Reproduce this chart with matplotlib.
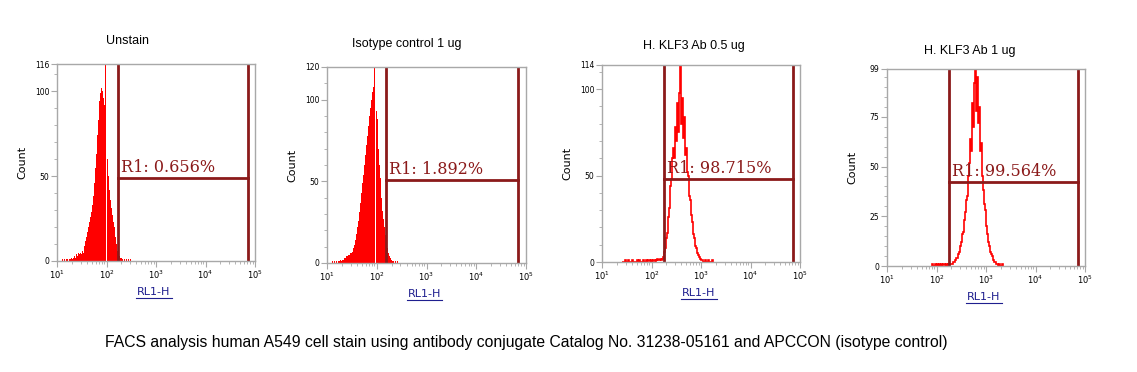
import numpy as np
import matplotlib
matplotlib.use("Agg")
import matplotlib.pyplot as plt
from matplotlib.lines import Line2D
from matplotlib.ticker import FixedLocator, LogLocator

# ------------------ DATA ------------------
titles = ["Unstain", "Isotype control 1 ug", "H. KLF3 Ab 0.5 ug", "H. KLF3 Ab 1 ug"]
gate_labels = ["R1: 0.656%", "R1: 1.892%", "R1: 98.715%", "R1: 99.564%"]
y_max = [116, 120, 114, 99]
y_major = [[0, 50, 100, 116], [0, 50, 100, 120], [0, 50, 100, 114], [0, 25, 50, 75, 99]]
y_minor_step = [10, 10, 10, 5]

# gate: left / right edge (log10 RL1-H) and marker level (count)
gate_left = [2.23, 2.19, 2.25, 2.25]
gate_right = [4.86, 4.84, 4.86, 4.86]
gate_level = [49, 51, 48, 42]

# histograms: counts per 0.02-decade channel, first channel at hist_start (log10)
bin_width = 0.02
hist_start = [1.10, 1.10, 1.40, 1.90]

counts_unstain = [
    1, 0, 1, 0, 1, 1, 0, 1, 1, 2, 1, 2, 3, 2, 4, 3, 5, 4, 5, 4,
    6, 5, 9, 12, 14, 17, 20, 23, 26, 29, 33, 38, 46, 55, 63, 74, 83, 94, 99, 102,
    100, 96, 92, 116, 0, 88, 60, 50, 42, 36, 31, 27, 23, 20, 14, 10, 6, 4, 3, 2,
    2, 1, 0, 1, 0, 1, 0, 1, 0, 1,
]
counts_isotype = [
    1, 0, 1, 0, 1, 0, 1, 1, 2, 1, 2, 2, 3, 3, 4, 4, 5, 5, 6, 6,
    7, 9, 11, 14, 18, 22, 26, 31, 37, 43, 49, 54, 60, 66, 72, 78, 84, 90, 95, 100,
    105, 108, 120, 0, 93, 88, 70, 60, 52, 40, 32, 27, 22, 17, 12, 9, 6, 4, 3, 2,
    1, 1, 0, 1, 0, 1,
]
counts_klf3_05 = [
    0, 0, 0, 1, 0, 0, 1, 0, 0, 0, 1, 0, 0, 0, 0, 1, 0, 1, 0, 0,
    0, 1, 0, 0, 1, 0, 1, 1, 0, 1, 0, 0, 1, 1, 0, 1, 2, 1, 1, 2,
    1, 2, 3, 6, 8, 14, 17, 26, 31, 44, 48, 60, 66, 60, 78, 70, 92, 75, 98, 114,
    80, 95, 72, 84, 62, 66, 52, 50, 38, 36, 27, 23, 16, 14, 9, 8, 5, 4, 3, 2,
    1, 1, 0, 0, 1, 0, 0, 1, 0, 0, 0, 1,
]
counts_klf3_1 = [
    1, 0, 0, 1, 0, 1, 1, 0, 1, 0, 1, 0, 1, 1, 0, 1, 0, 1, 1, 1,
    1, 1, 2, 2, 3, 4, 4, 6, 7, 10, 12, 16, 17, 23, 27, 33, 35, 45, 52, 64,
    58, 82, 70, 92, 99, 78, 95, 72, 80, 58, 62, 45, 38, 31, 28, 20, 16, 12, 10, 7,
    6, 5, 3, 2, 2, 1, 1, 0, 1, 0, 0, 1,
]
all_counts = [counts_unstain, counts_isotype, counts_klf3_05, counts_klf3_1]
filled = [True, True, False, False]

caption = ("FACS analysis human A549 cell stain using antibody conjugate "
           "Catalog No. 31238-05161 and APCCON (isotype control)")

# ------------------ LAYOUT (pixels of the 1137x372 image) ------------------
W, H = 1137, 372
ax_boxes = [(57, 255, 64, 261), (327, 526, 67, 263), (602, 800, 65, 262), (887, 1085, 69, 266)]
title_pos = [(0.354, 1.117), (0.40, 1.117), (0.465, 1.096), (0.42, 1.09)]

RED = "#ff0000"
GATE = "#8b1a1a"
GREY = "#a8a8a8"

fig = plt.figure(figsize=(W / 100, H / 100), dpi=100)

for i in range(4):
    l, r, t, b = ax_boxes[i]
    ax = fig.add_axes([l / W, (H - b) / H, (r - l) / W, (b - t) / H])

    counts = np.array(all_counts[i])
    edges = 10 ** (hist_start[i] + bin_width * np.arange(len(counts) + 1))
    if filled[i]:
        ax.stairs(counts, edges, fill=True, color=RED, lw=0)
    else:
        ax.stairs(counts, edges, color=RED, lw=1.2)

    # gate R1
    gl, gr = 10 ** gate_left[i], 10 ** gate_right[i]
    ax.axvline(gl, color=GATE, lw=2)
    ax.axvline(gr, color=GATE, lw=2)
    ax.plot([gl, gr], [gate_level[i], gate_level[i]], color=GATE, lw=2)
    ax.annotate(gate_labels[i], (gl, gate_level[i]), xytext=(2, 1.5),
                textcoords="offset points", ha="left", va="bottom",
                fontsize=11.5, color=GATE, family="DejaVu Serif")

    ax.set_xscale("log")
    ax.set_xlim(10, 1e5)
    ax.set_ylim(0, y_max[i])

    ax.yaxis.set_major_locator(FixedLocator(y_major[i]))
    ax.yaxis.set_minor_locator(FixedLocator(np.arange(0, y_max[i], y_minor_step[i])))
    ax.xaxis.set_major_locator(LogLocator(base=10, numticks=10))
    ax.xaxis.set_minor_locator(LogLocator(base=10, subs=np.arange(2, 10), numticks=10))

    for s in ax.spines.values():
        s.set_color(GREY)
        s.set_linewidth(1)
    ax.tick_params(axis="both", which="both", color=GREY, labelsize=5.5, pad=1.5)
    ax.tick_params(axis="x", labelsize=6)
    ax.tick_params(axis="both", which="major", length=4)
    ax.tick_params(axis="both", which="minor", length=2)

    ax.text(title_pos[i][0], title_pos[i][1], titles[i], transform=ax.transAxes,
            ha="center", va="center", fontsize=9, family="Liberation Sans")
    ax.text(-0.175, 0.5, "Count", transform=ax.transAxes, rotation=90,
            ha="center", va="center", fontsize=8)
    ax.text(0.49, -0.157, "RL1-H", transform=ax.transAxes,
            ha="center", va="center", fontsize=8, color="#1f1f8f")
    ax.add_line(Line2D([0.40, 0.58], [-0.19, -0.19], transform=ax.transAxes,
                       color="#1f1f8f", lw=0.8, clip_on=False))

fig.text(105 / W, 1 - 343 / H, caption, ha="left", va="center",
         fontsize=11.3, family="Liberation Sans")

plt.savefig("out.png", dpi=100)
plt.close()
